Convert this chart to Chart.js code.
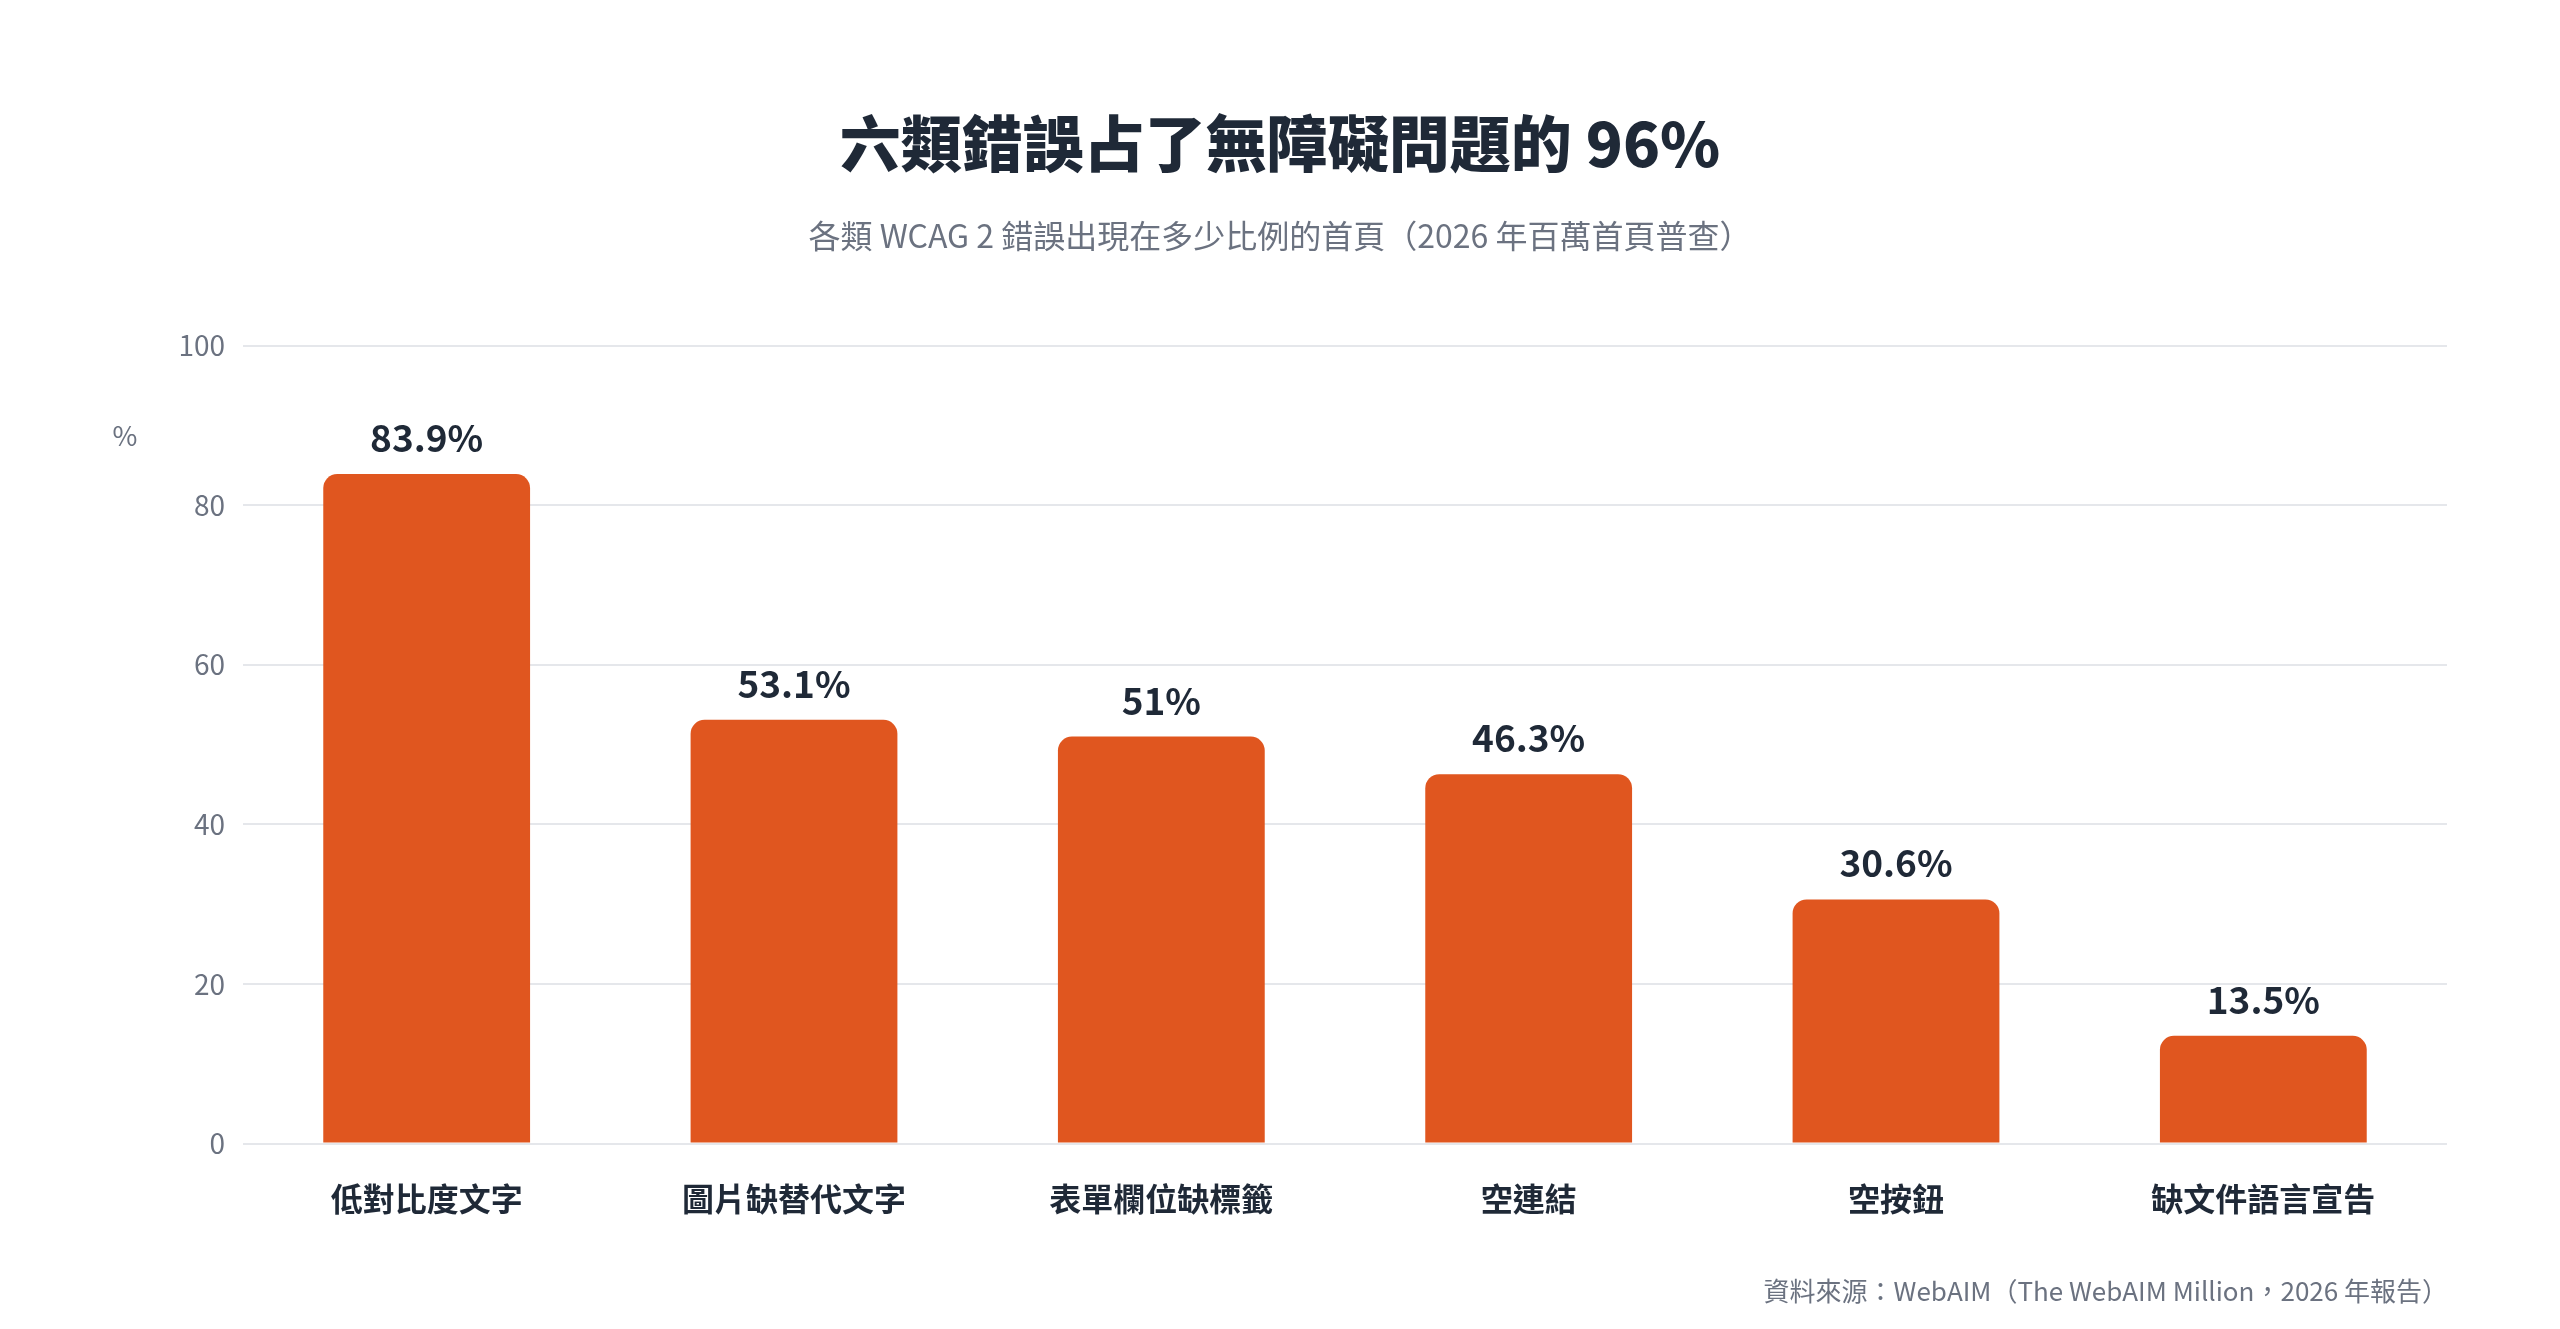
<!DOCTYPE html>
<html lang="zh-Hant">
<head>
<meta charset="utf-8">
<title>六類錯誤占了無障礙問題的 96%</title>
<script src="https://cdn.jsdelivr.net/npm/chart.js@4.4.1/dist/chart.umd.min.js"></script>
<style>
  html, body { margin: 0; padding: 0; background: #ffffff; }
  #wrap { width: 2560px; height: 1329px; position: relative; }
</style>
</head>
<body>
<div id="wrap"><canvas id="graphique-erreurs"></canvas></div>
<script>
/* Données du graphique */
const categories = ['低對比度文字', '圖片缺替代文字', '表單欄位缺標籤', '空連結', '空按鈕', '缺文件語言宣告'];
const pourcentages = [83.9, 53.1, 51, 46.3, 30.6, 13.5];
const ticksY = [0, 20, 40, 60, 80, 100];

const titre = '六類錯誤占了無障礙問題的 96%';
const sousTitre = '各類 WCAG 2 錯誤出現在多少比例的首頁（2026 年百萬首頁普查）';
const source = '資料來源：WebAIM（The WebAIM Million，2026 年報告）';
const uniteY = '%';

const police = '"Noto Sans CJK TC", "Noto Sans", sans-serif';
const couleurBarre = '#e0561f';
const couleurFonce = '#1f2937';
const couleurGris = '#6b7280';
const couleurGrille = '#e5e7eb';

/* Étiquettes au-dessus des barres + source + unité */
const etiquettes = {
  id: 'etiquettes',
  afterDatasetsDraw(chart) {
    const ctx = chart.ctx;
    const meta = chart.getDatasetMeta(0);
    ctx.save();
    ctx.font = `700 37px ${police}`;
    ctx.fillStyle = couleurFonce;
    ctx.textAlign = 'center';
    ctx.textBaseline = 'alphabetic';
    meta.data.forEach((barre, i) => {
      ctx.fillText(`${pourcentages[i]}%`, barre.x, barre.y - 22);
    });
    ctx.restore();
  },
  afterDraw(chart) {
    const ctx = chart.ctx;
    const zone = chart.chartArea;
    ctx.save();
    ctx.font = `400 27px ${police}`;
    ctx.fillStyle = couleurGris;
    ctx.textAlign = 'center';
    ctx.textBaseline = 'middle';
    ctx.fillText(uniteY, 125, zone.top + 90);

    ctx.font = `400 26px ${police}`;
    ctx.textAlign = 'right';
    ctx.fillText(source, zone.right + 1, 1291);
    ctx.restore();
  }
};

const ctx = document.getElementById('graphique-erreurs').getContext('2d');
const graphique = new Chart(ctx, {
  type: 'bar',
  data: {
    labels: categories,
    datasets: [{
      data: pourcentages,
      backgroundColor: couleurBarre,
      borderRadius: 14,
      borderSkipped: 'bottom',
      categoryPercentage: 1,
      barPercentage: 0.563
    }]
  },
  options: {
    responsive: true,
    maintainAspectRatio: false,
    animation: false,
    devicePixelRatio: 1,
    layout: { padding: { top: 0, left: 113, right: 113, bottom: 75 } },
    plugins: {
      legend: { display: false },
      tooltip: { enabled: false },
      title: {
        display: true,
        text: titre,
        color: couleurFonce,
        font: { family: police, size: 61, weight: '900', lineHeight: 1.2 },
        padding: { top: 107, bottom: 36 }
      },
      subtitle: {
        display: true,
        text: sousTitre,
        color: couleurGris,
        font: { family: police, size: 32, weight: '400', lineHeight: 1.2 },
        padding: { top: 0, bottom: 91 }
      }
    },
    scales: {
      x: {
        grid: { display: false, drawTicks: false },
        border: { display: false },
        ticks: {
          color: couleurFonce,
          padding: 36,
          font: { family: police, size: 32, weight: '700', lineHeight: 1.2 }
        }
      },
      y: {
        min: 0,
        max: 100,
        afterFit(scale) { scale.width = 130; },
        afterBuildTicks(scale) { scale.ticks = ticksY.map(v => ({ value: v })); },
        grid: { color: couleurGrille, lineWidth: 2, drawTicks: false },
        border: { display: false },
        ticks: {
          color: couleurGris,
          padding: 18,
          font: { family: police, size: 28, weight: '400' }
        }
      }
    }
  },
  plugins: [etiquettes]
});
</script>
</body>
</html>
